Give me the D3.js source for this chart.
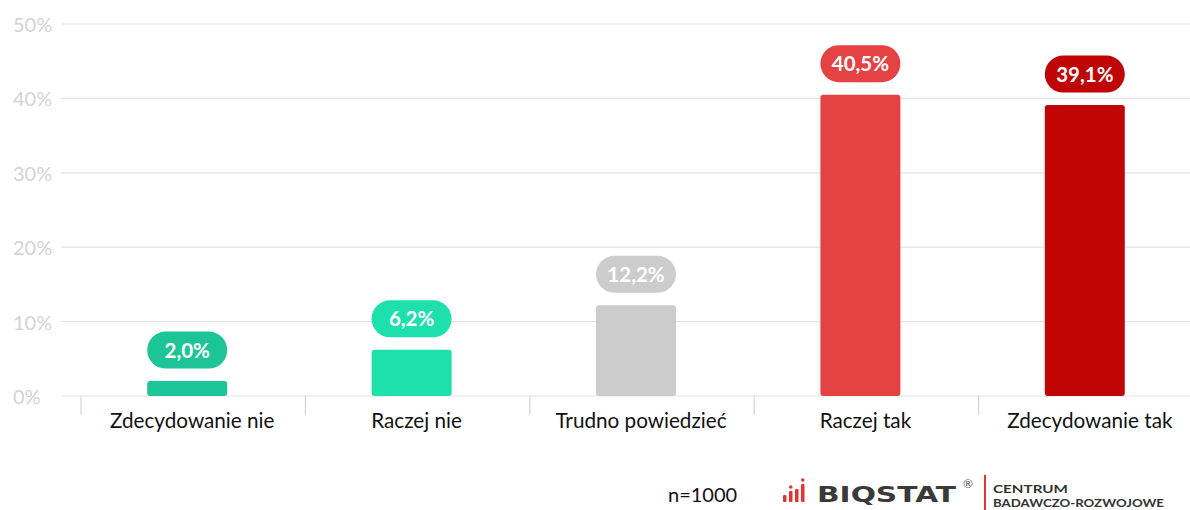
<!DOCTYPE html>
<html>
<head>
<meta charset="utf-8">
<script src="https://cdn.jsdelivr.net/npm/d3@7"></script>
<style>
  body { margin: 0; background: #fff; }
  svg { font-family: Lato, "Noto Sans", sans-serif; display: block; }
</style>
</head>
<body>
<svg></svg>
<script>
const size = {w: 1190, h: 510};
const svg = d3.select('svg').attr('width', size.w).attr('height', size.h);

// chart data
const categories = ['Zdecydowanie nie', 'Raczej nie', 'Trudno powiedzieć', 'Raczej tak', 'Zdecydowanie tak'];
const values = [2.0, 6.2, 12.2, 40.5, 39.1];
const colors = ['#1dc496', '#1ee0ad', '#cccccc', '#e54343', '#bf0505'];
const yTicks = [0, 10, 20, 30, 40, 50];

// scales
const y = d3.scaleLinear().domain([0, 50]).range([396, 24]);
const x = d3.scaleBand().domain(categories).range([80, 1202]);
const barW = 80;
const barShift = -5;

// grid lines + y labels
const gridG = svg.append('g').classed('grid', true);
gridG.selectAll('line')
  .data(yTicks)
  .join('line')
  .attr('x1', 61).attr('x2', size.w)
  .attr('y1', d => y(d)).attr('y2', d => y(d))
  .attr('stroke', '#e2e2e2')
  .attr('stroke-width', 1.2);

gridG.selectAll('text')
  .data(yTicks)
  .join('text')
  .attr('x', 13)
  .attr('y', d => y(d) + 8)
  .attr('font-size', 20)
  .attr('fill', '#d3d3d3')
  .text(d => d + '%');

// category separators below the axis
const bounds = categories.map(c => x(c));
svg.append('g').selectAll('line')
  .data(bounds)
  .join('line')
  .attr('x1', d => d + 1).attr('x2', d => d + 1)
  .attr('y1', y(0)).attr('y2', y(0) + 19)
  .attr('stroke', '#d5d5d5')
  .attr('stroke-width', 1.2);

// category labels
svg.append('g').selectAll('text')
  .data(categories)
  .join('text')
  .attr('x', d => x(d) + x.bandwidth() / 2)
  .attr('y', 428)
  .attr('text-anchor', 'middle')
  .attr('font-size', 20.7)
  .attr('fill', '#111')
  .text(d => d);

// bars
const data = categories.map((c, i) => ({cat: c, v: values[i], col: colors[i]}));
const barsG = svg.append('g').classed('bars', true);
barsG.selectAll('rect')
  .data(data)
  .join('rect')
  .attr('x', d => x(d.cat) + x.bandwidth() / 2 + barShift - barW / 2)
  .attr('y', d => y(d.v))
  .attr('width', barW)
  .attr('height', d => y(0) - y(d.v))
  .attr('rx', 3)
  .attr('fill', d => d.col);

// pill value labels
const pillG = svg.append('g').classed('pills', true);
const pills = pillG.selectAll('g')
  .data(data)
  .join('g')
  .attr('transform', d => `translate(${x(d.cat) + x.bandwidth() / 2 + barShift},${y(d.v) - 31})`);
pills.append('rect')
  .attr('x', -barW / 2).attr('y', -18.5)
  .attr('width', barW).attr('height', 37)
  .attr('rx', 18.5)
  .attr('fill', d => d.col);
pills.append('text')
  .attr('text-anchor', 'middle')
  .attr('y', 7.5)
  .attr('font-size', 20.5)
  .attr('font-weight', 700)
  .attr('fill', '#fff')
  .text(d => d.v.toFixed(1).replace('.', ',') + '%');

// footer
const foot = svg.append('g').classed('footer', true);
foot.append('text')
  .attr('x', 668).attr('y', 502)
  .attr('font-size', 20)
  .attr('fill', '#111')
  .text('n=1000');

// logo icon: small red bars with dots
const iconBars = [[783, 7, false], [789, 11, true], [795, 13, false], [801, 18, true]];
foot.selectAll('rect.ib')
  .data(iconBars)
  .join('rect')
  .attr('class', 'ib')
  .attr('x', d => d[0]).attr('y', d => 502 - d[1])
  .attr('width', 3.5).attr('height', d => d[1])
  .attr('rx', 1)
  .attr('fill', '#e3342f');
foot.selectAll('circle.id')
  .data(iconBars.filter(d => d[2]))
  .join('circle')
  .attr('class', 'id')
  .attr('cx', d => d[0] + 1.75).attr('cy', d => 502 - d[1] - 4)
  .attr('r', 1.8)
  .attr('fill', '#e3342f');
foot.append('text')
  .attr('x', 817).attr('y', 502)
  .attr('font-family', '"DejaVu Sans", sans-serif')
  .attr('font-size', 22)
  .attr('font-weight', 700)
  .attr('textLength', 139)
  .attr('lengthAdjust', 'spacingAndGlyphs')
  .attr('fill', '#3a3a3a')
  .text('BIQSTAT');
foot.append('text')
  .attr('x', 963).attr('y', 488)
  .attr('font-size', 12)
  .attr('fill', '#555')
  .text('®');
foot.append('line')
  .attr('x1', 985).attr('x2', 985)
  .attr('y1', 475).attr('y2', 510)
  .attr('stroke', '#e3342f')
  .attr('stroke-width', 2);
foot.append('text')
  .attr('x', 993).attr('y', 492.5)
  .attr('font-size', 11.5)
  .attr('font-weight', 700)
  .attr('textLength', 75)
  .attr('lengthAdjust', 'spacingAndGlyphs')
  .attr('fill', '#333')
  .text('CENTRUM');
foot.append('text')
  .attr('x', 993).attr('y', 506.5)
  .attr('font-size', 11.5)
  .attr('font-weight', 700)
  .attr('textLength', 171)
  .attr('lengthAdjust', 'spacingAndGlyphs')
  .attr('fill', '#333')
  .text('BADAWCZO-ROZWOJOWE');
</script>
</body>
</html>
